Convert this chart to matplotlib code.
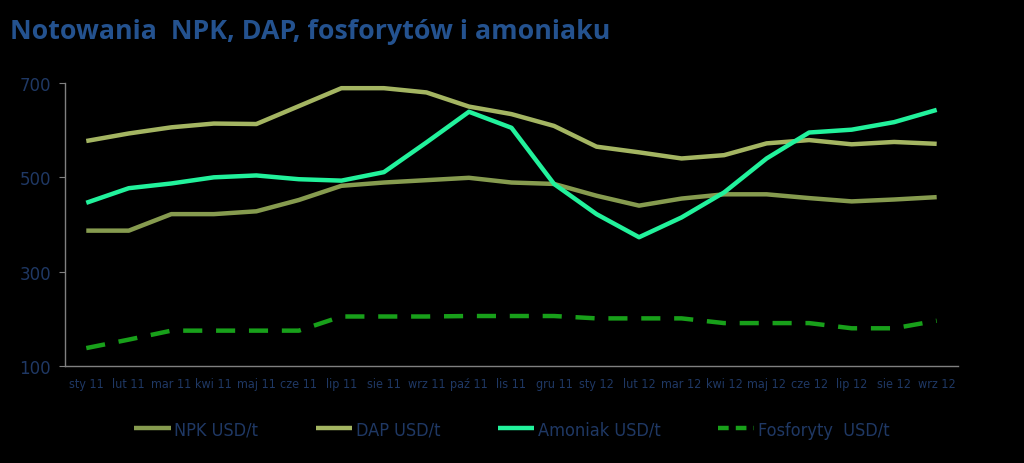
import matplotlib
matplotlib.use("Agg")
import matplotlib.pyplot as plt
from matplotlib import font_manager
from matplotlib.lines import Line2D
import numpy as np

months = ["sty 11", "lut 11", "mar 11", "kwi 11", "maj 11", "cze 11", "lip 11",
          "sie 11", "wrz 11", "paź 11", "lis 11", "gru 11", "sty 12", "lut 12",
          "mar 12", "kwi 12", "maj 12", "cze 12", "lip 12", "sie 12", "wrz 12"]

npk = [387, 387, 422, 422, 428, 452, 482, 489, 494, 499, 489, 486, 461, 440,
       455, 464, 464, 456, 449, 453, 458]
dap = [577, 593, 606, 614, 613, 651, 689, 689, 680, 650, 634, 609, 565, 553,
       540, 547, 572, 579, 570, 575, 571]
amoniak = [446, 477, 487, 500, 504, 496, 493, 511, 574, 639, 605, 486, 422, 373,
           415, 468, 540, 595, 601, 617, 643]
fosforyty = [138, 156, 175, 175, 175, 175, 205, 205, 205, 206, 206, 206, 201, 201,
             201, 191, 191, 191, 180, 180, 196]

TEXT = "#1f3864"
BG = "black"

names = {f.name for f in font_manager.fontManager.ttflist}
narrow = "Liberation Sans Narrow" if "Liberation Sans Narrow" in names else "DejaVu Sans"

fig = plt.figure(figsize=(10.24, 4.64), dpi=100, facecolor=BG)
ax = fig.add_axes([0.0635, 0.209, 0.872, 0.61], facecolor=BG)

x = np.arange(len(months))
l1, = ax.plot(x, npk, color="#869b4f", lw=3.2, solid_capstyle="butt")
l2, = ax.plot(x, dap, color="#a4b562", lw=3.2, solid_capstyle="butt")
l3, = ax.plot(x, amoniak, color="#22f29c", lw=3.2, solid_capstyle="butt")
ax.plot(x, fosforyty, color="#18a01a", lw=3.2, dashes=(4.3, 3.1), dash_capstyle="butt")
l4 = Line2D([], [], color="#18a01a", lw=3.2, dashes=(2.4, 1.6), dash_capstyle="butt")

ax.set_xlim(-0.5, len(months) - 0.5)
ax.set_ylim(100, 700)
ax.set_yticks([100, 300, 500, 700])
ax.set_xticks(x)
ax.set_xticklabels(months, family=narrow, stretch="condensed", fontsize=9, color=TEXT)
ax.tick_params(axis="x", length=0, pad=8)
ax.tick_params(axis="y", length=4, color="#808080", labelsize=12, labelcolor=TEXT, pad=6)

for side in ["top", "right"]:
    ax.spines[side].set_visible(False)
for side in ["left", "bottom"]:
    ax.spines[side].set_color("#808080")
    ax.spines[side].set_linewidth(1.0)

fig.text(0.01, 0.93, "Notowania  NPK, DAP, fosforytów i amoniaku",
         color="#24528f", fontsize=19.3, fontweight="bold",
         family=["Open Sans", "DejaVu Sans"], va="center", ha="left")

leg = fig.legend([l1, l2, l3, l4],
                 ["NPK USD/t", "DAP USD/t", "Amoniak USD/t", "Fosforyty  USD/t"],
                 loc="center", bbox_to_anchor=(0.5, 0.072), ncol=4, frameon=False,
                 handlelength=2.0, columnspacing=3.2, handletextpad=0.2,
                 prop={"family": narrow, "stretch": "condensed", "size": 13})
for t in leg.get_texts():
    t.set_color(TEXT)

fig.savefig("out.png", dpi=100, facecolor=BG)
